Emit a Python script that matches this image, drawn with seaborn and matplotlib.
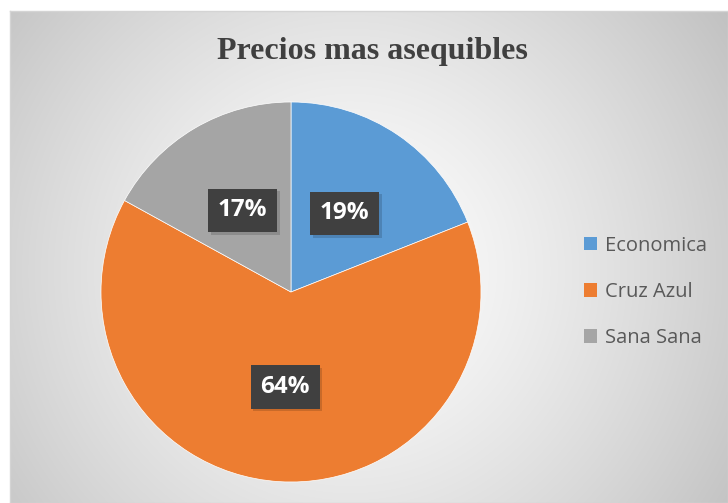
import numpy as np
import matplotlib
matplotlib.use('Agg')
import matplotlib.pyplot as plt
import seaborn as sns
from matplotlib.patches import Patch
from matplotlib import patheffects as pe

categories = ['Economica', 'Cruz Azul', 'Sana Sana']
values = [19, 64, 17]
colors = ['#5B9BD5', '#ED7D31', '#A5A5A5']
title = 'Precios mas asequibles'

sns.set_theme(style='white')
plt.rcParams['font.family'] = ['Open Sans', 'DejaVu Sans']

W, H = 728, 503
fig = plt.figure(figsize=(W / 100, H / 100), dpi=100)
fig.patch.set_facecolor('white')

# background with radial gradient
bw, bh = W - 10, H - 11
bg = fig.add_axes([10 / W, 0, bw / W, bh / H])
yy, xx = np.mgrid[0:bh, 0:bw]
cx, cy = 340, 260
d = np.hypot(xx - cx, yy - cy)
v = 1 - np.clip(d / 470, 0, 1) ** 1.3 * 0.25
bg.imshow(np.dstack([v, v, v]), aspect='auto', interpolation='bilinear')
bg.set_xticks([]); bg.set_yticks([])
for s in bg.spines.values():
    s.set_color('#d4d4d4'); s.set_linewidth(1)

# pie
ax = fig.add_axes([101 / W, 21 / H, 380 / W, 380 / H])
wedges, texts, autotexts = ax.pie(
    values, colors=colors, startangle=90, counterclock=False,
    autopct='%1.0f%%', pctdistance=0.5,
    wedgeprops=dict(linewidth=0.5, edgecolor='white'))
ax.set_xlim(-1, 1)
ax.set_ylim(-1, 1)
ax.set_aspect('equal')
ax.axis('off')
for t in autotexts:
    t.set_color('white')
    t.set_fontweight('bold')
    t.set_fontsize(17.5)
    t.set_bbox(dict(boxstyle='square,pad=0.4', facecolor='#404040', edgecolor='none'))
    t.get_bbox_patch().set_path_effects([
        pe.SimplePatchShadow(offset=(2, -2), shadow_rgbFace='black', alpha=0.15),
        pe.Normal()])

# title
fig.text(372 / W, 1 - 52 / H, title, family=['Liberation Serif'], fontweight='bold',
         fontsize=23, color='#404040', ha='center', va='center')

# legend
handles = [Patch(facecolor=c, edgecolor='none') for c in colors]
leg = fig.legend(handles, categories, loc='center left',
                 bbox_to_anchor=(574 / W, 1 - 292 / H), frameon=False,
                 fontsize=14.5, handlelength=0.65, handleheight=0.65,
                 handletextpad=0.4, labelspacing=1.3, borderpad=0)
for t in leg.get_texts():
    t.set_color('#595959')

fig.savefig('out.png', dpi=100)
